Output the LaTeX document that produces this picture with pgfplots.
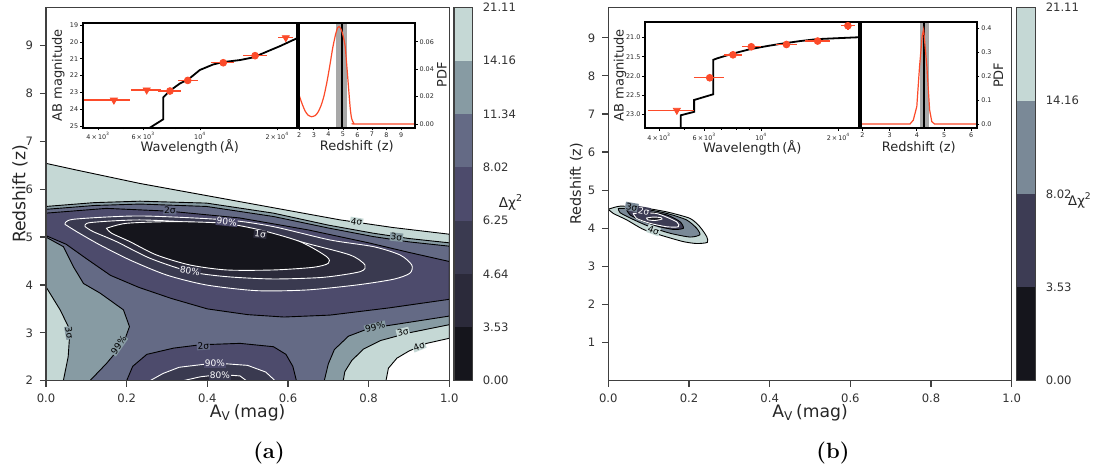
\documentclass[border=0pt]{standalone}
\usepackage{fontspec}
\usepackage{pgfplots}
\pgfplotsset{compat=1.18}
\newfontfamily\dv{DejaVu Sans}
\newcommand\fs[1]{\fontsize{#1}{#1}\selectfont}
\definecolor{c0}{HTML}{15151C}
\definecolor{c1}{HTML}{2B2A3A}
\definecolor{c2}{HTML}{3A3A50}
\definecolor{c3}{HTML}{4D4B6C}
\definecolor{c4}{HTML}{646A85}
\definecolor{c5}{HTML}{879BA3}
\definecolor{c6}{HTML}{C5D8D5}
\definecolor{r1}{HTML}{3D3C54}
\definecolor{r2}{HTML}{7A8997}
\definecolor{sred}{HTML}{FC4B2A}
\definecolor{band}{HTML}{A8A8A8}
\tikzset{clab/.style={font=\dv\fs{4.5}, inner sep=0.4pt}}
\pgfplotsset{
 mainax/.style={scale only axis, height=186.7pt, xmin=0, xmax=1, axis on top, clip=true,
   tick align=outside, major tick length=3pt, xtick pos=left, ytick pos=left,
   axis line style={black!75, line width=0.7pt}, tick style={black!75, line width=0.6pt},
   /pgf/number format/assume math mode=true,
   ticklabel style={font=\dv\fs{5.8}, text=black!80},
   label style={font=\dv\fs{8.6}, text=black!85},
   xtick={0,0.2,0.4,0.6,0.8,1}, xticklabels={0.0,0.2,0.4,0.6,0.8,1.0},
   xlabel={A\textsubscript{V}\,(mag)}, ylabel={Redshift (z)},
   xlabel style={at={(axis description cs:0.5,-0.0865)}, anchor=center}},
 inset/.style={scale only axis, axis on top, clip=true,
   tick align=outside, major tick length=1.3pt, minor tick length=0.8pt, xtick pos=left, ytick pos=left,
   axis line style={black, line width=0.9pt}, tick style={black, line width=0.35pt},
   /pgf/number format/assume math mode=true, scaled y ticks=false, scaled x ticks=false,
   ticklabel style={font=\dv\fs{3.2}, text=black!85, inner sep=0.8pt},
   label style={font=\dv\fs{6.5}, text=black!85},
   axis background/.style={fill=white}},
 cbar/.style={scale only axis, height=186.7pt, xmin=0, xmax=1, ymin=0, axis on top,
   xtick=\empty, yticklabel pos=right, ytick pos=right, tick align=outside, major tick length=1.5pt,
   axis line style={black!75, line width=0.7pt}, tick style={draw=none},
   /pgf/number format/assume math mode=true,
   ticklabel style={font=\dv\fs{5.8}, text=black!80}},
}
\begin{document}
\begin{tikzpicture}
\path[use as bounding box] (0,0) rectangle (546.5pt,-237pt);
\coordinate (MA) at (23pt,-190.35pt);
\coordinate (CBA) at (227pt,-190.35pt);
\coordinate (SA) at (41.35pt,-63.85pt);
\coordinate (PA) at (149.35pt,-63.85pt);
\coordinate (MB) at (304.15pt,-190.35pt);
\coordinate (CBB) at (508.35pt,-190.35pt);
\coordinate (SB) at (322.5pt,-64.15pt);
\coordinate (PB) at (430.5pt,-64.15pt);

% ---------------- panel (a) main ----------------
\begin{axis}[mainax, at={(MA)}, anchor=south west, width=201.65pt, ymin=2, ymax=9.8, ytick={2,...,9},
  ylabel style={at={(axis description cs:-0.0645,0.5)}, anchor=center, font=\dv\fs{8.6}}]
\addplot[fill=c6, draw=black, line width=0.45pt] coordinates {(0,2) (0,6.54) (0.076,6.40) (0.233,6.12) (0.481,5.74) (0.729,5.36) (0.86,5.2) (1,5.06) (1,2.886) (0.944,2.78) (0.90,2.62) (0.87,2.47) (0.849,2.26) (0.843,2)} --cycle;
\addplot[fill=c5, draw=black, line width=0.45pt] coordinates {(0,5.64) (0.12,5.72) (0.233,5.75) (0.398,5.71) (0.564,5.50) (0.70,5.25) (0.812,5.08) (0.9,4.97) (1,4.88) (1,3.17) (0.9,3.0) (0.83,2.84) (0.787,2.66) (0.758,2.42) (0.741,2.19) (0.737,2) (0.043,2) (0.055,2.5) (0.0595,3.06) (0.035,3.48) (0,3.96)} --cycle;
\addplot[fill=c4, draw=black, line width=0.45pt] coordinates {(0,5.58) (0.12,5.66) (0.233,5.69) (0.398,5.64) (0.564,5.43) (0.70,5.19) (0.812,5.01) (0.9,4.9) (1,4.81) (1,3.35) (0.87,3.18) (0.80,3.09) (0.75,2.93) (0.715,2.65) (0.70,2.35) (0.69,2) (0.109,2) (0.150,2.36) (0.192,2.78) (0.207,3.13) (0.192,3.48) (0.134,3.83) (0.093,4.03) (0.068,4.38) (0.043,4.80) (0,5.0)} --cycle;
\addplot[fill=c3, draw=black, line width=0.45pt] coordinates {(0,5.50) (0.15,5.60) (0.307,5.54) (0.48,5.40) (0.65,5.15) (0.8,4.88) (0.9,4.68) (1,4.49) (1,3.70) (0.85,3.52) (0.704,3.37) (0.59,3.33) (0.5,3.38) (0.40,3.50) (0.31,3.72) (0.23,3.95) (0.16,4.2) (0.10,4.55) (0.05,4.85) (0,5.03)} --cycle;
\addplot[fill=c3, draw=black, line width=0.45pt] coordinates {(0.2,2) (0.215,2.3) (0.25,2.55) (0.316,2.68) (0.382,2.75) (0.481,2.78) (0.564,2.71) (0.595,2.55) (0.612,2.3) (0.621,2)} --cycle;
\addplot[fill=c2, draw=white!85, line width=0.45pt, smooth, tension=0.45] coordinates {(0.047,5.267) (0.068,5.372) (0.233,5.441) (0.448,5.358) (0.564,5.218) (0.704,4.940) (0.812,4.800) (0.878,4.626) (0.907,4.417) (0.902,4.243) (0.861,4.118) (0.770,3.999) (0.646,3.895) (0.522,3.881) (0.398,3.999) (0.299,4.208) (0.208,4.522) (0.134,4.835) (0.076,5.114) (0.047,5.267)} --cycle;
\addplot[fill=c2, draw=white!85, line width=0.45pt] coordinates {(0.258,2) (0.29,2.15) (0.33,2.28) (0.419,2.37) (0.50,2.32) (0.545,2.18) (0.568,2)} --cycle;
\addplot[fill=c1, draw=white!85, line width=0.45pt, smooth, tension=0.45] coordinates {(0.097,5.218) (0.109,5.302) (0.233,5.358) (0.398,5.288) (0.522,5.149) (0.646,4.870) (0.754,4.626) (0.791,4.417) (0.779,4.278) (0.688,4.160) (0.564,4.125) (0.448,4.173) (0.357,4.278) (0.258,4.557) (0.175,4.905) (0.117,5.114) (0.097,5.218)} --cycle;
\addplot[fill=c1, draw=white!85, line width=0.45pt] coordinates {(0.34,2) (0.382,2.08) (0.431,2.13) (0.481,2.10) (0.497,2)} --cycle;
\addplot[fill=c0, draw=white, line width=0.45pt, smooth, tension=0.45] coordinates {(0.150,5.184) (0.200,5.288) (0.316,5.323) (0.440,5.288) (0.531,5.149) (0.630,4.905) (0.696,4.591) (0.700,4.452) (0.663,4.369) (0.564,4.313) (0.448,4.313) (0.357,4.417) (0.274,4.626) (0.208,4.905) (0.163,5.079) (0.150,5.184)} --cycle;
\node[clab, rotate=-9, fill=c6] at (axis cs:0.770,5.32) {4σ};
\node[clab, rotate=-6, fill=c5] at (axis cs:0.869,5.00) {3σ};
\node[clab, rotate=-1, fill=c4] at (axis cs:0.307,5.56) {2σ};
\node[clab, rotate=-6, fill=c3, text=white!80] at (axis cs:0.448,5.32) {90\%};
\node[clab, rotate=-6, fill=c1, text=white] at (axis cs:0.531,5.06) {1σ};
\node[clab, rotate=-9, fill=c2, text=white!80] at (axis cs:0.357,4.29) {80\%};
\node[clab, rotate=-80, fill=c5] at (axis cs:0.058,3.0) {3σ};
\node[clab, rotate=55, fill=c5] at (axis cs:0.180,2.74) {99\%};
\node[clab, rotate=4, fill=c4] at (axis cs:0.39,2.73) {2σ};
\node[clab, fill=c3, text=white!80] at (axis cs:0.419,2.36) {90\%};
\node[clab, fill=c2, text=white!80] at (axis cs:0.431,2.11) {80\%};
\node[clab, rotate=14, fill=c5] at (axis cs:0.816,3.12) {99\%};
\node[clab, rotate=14, fill=c6] at (axis cs:0.885,3.01) {3σ};
\node[clab, rotate=22, fill=c6] at (axis cs:0.925,2.72) {4σ};
\end{axis}

% colorbar (a)
\begin{axis}[cbar, at={(CBA)}, anchor=south west, width=9.35pt, ymax=7, ytick={0,...,7},
  yticklabels={0.00,3.53,4.64,6.25,8.02,11.34,14.16,21.11}]
\addplot[fill=c0, draw=none] coordinates {(0,0) (1,0) (1,1) (0,1)} --cycle;
\addplot[fill=c1, draw=none] coordinates {(0,1) (1,1) (1,2) (0,2)} --cycle;
\addplot[fill=c2, draw=none] coordinates {(0,2) (1,2) (1,3) (0,3)} --cycle;
\addplot[fill=c3, draw=none] coordinates {(0,3) (1,3) (1,4) (0,4)} --cycle;
\addplot[fill=c4, draw=none] coordinates {(0,4) (1,4) (1,5) (0,5)} --cycle;
\addplot[fill=c5, draw=none] coordinates {(0,5) (1,5) (1,6) (0,6)} --cycle;
\addplot[fill=c6, draw=none] coordinates {(0,6) (1,6) (1,7) (0,7)} --cycle;
\end{axis}
\node[font=\dv\fs{6.8}, text=black!85] at (255.5pt,-101pt) {Δχ\textsuperscript{2}};

% SED inset (a)
\begin{axis}[inset, at={(SA)}, anchor=south west, width=107pt, height=52.5pt,
  xmode=log, xmin=3480, xmax=23800, ymin=18.86, ymax=25.1, y dir=reverse, ytick={19,...,25},
  xtick={4000,6000,10000,20000},
  xticklabels={4\,×\,10\textsuperscript{3},6\,×\,10\textsuperscript{3},10\textsuperscript{4},2\,×\,10\textsuperscript{4}},
  minor xtick={5000,7000,8000,9000},
  xlabel={Wavelength\,(Å)}, ylabel={AB magnitude},
  xlabel style={at={(axis description cs:0.5,-0.181)}, anchor=center},
  ylabel style={at={(axis description cs:-0.114,0.5)}, anchor=center}]
\addplot[black, line width=0.9pt] coordinates {(5900,25.5) (6366,25.1) (7177,24.6) (7180,23.3) (7620,22.9) (8340,22.47) (8990,22.23) (9970,21.67) (11250,21.34) (12300,21.2) (14310,21.08) (16130,20.92) (18200,20.58) (20500,20.25) (23830,19.79) (25000,19.65)};
\addplot[sred, line width=0.7pt] coordinates {(3530,23.46) (5326,23.46)};
\addplot[sred, line width=0.7pt] coordinates {(5362,22.86) (7060,22.86)};
\addplot[sred, line width=0.7pt] coordinates {(6860,22.92) (8450,22.92)};
\addplot[sred, line width=0.7pt] coordinates {(8215,22.29) (9830,22.29)};
\addplot[sred, line width=0.7pt] coordinates {(11050,21.24) (13600,21.24)};
\addplot[sred, line width=0.7pt] coordinates {(14720,20.82) (18150,20.82)};
\addplot[sred, line width=0.7pt] coordinates {(20170,19.75) (23050,19.75)};
\addplot[only marks, mark=triangle*, mark size=2pt, color=sred, mark options={rotate=180, fill=sred, draw=sred}] coordinates {(4605,23.46) (6184,22.86) (21580,19.75)};
\addplot[only marks, mark=*, mark size=1.7pt, color=sred, mark options={fill=sred, draw=sred}] coordinates {(7620,22.92) (8942,22.29) (12300,21.24) (16370,20.82)};
\end{axis}

% PDF inset (a)
\begin{axis}[inset, at={(PA)}, anchor=south west, width=58.15pt, height=52.5pt,
  xmin=1.96, xmax=9.96, ymin=-0.0027, ymax=0.0739, xtick={2,...,9},
  ytick={0,0.02,0.04,0.06}, yticklabels={0.00,0.02,0.04,0.06}, yticklabel pos=right, ytick pos=right,
  xlabel={Redshift (z)}, ylabel={PDF},
  xlabel style={at={(axis description cs:0.5,-0.181)}, anchor=center},
  ylabel style={at={(axis description cs:1.23,0.5)}, anchor=center}]
\addplot[fill=band, draw=none] coordinates {(4.53,-1) (5.26,-1) (5.26,1) (4.53,1)} --cycle;
\addplot[black, line width=1.1pt] coordinates {(4.92,-1) (4.92,1)};
\addplot[sred, line width=0.6pt, smooth, tension=0.4] coordinates {(1.96,0.022) (2.2,0.0145) (2.4,0.0095) (2.6,0.0065) (2.85,0.0053) (3.1,0.0062) (3.3,0.0088) (3.5,0.0135) (3.7,0.0205) (3.9,0.0305) (4.1,0.0425) (4.3,0.0555) (4.5,0.0655) (4.65,0.0705) (4.75,0.071) (4.88,0.069) (5.0,0.065) (5.15,0.057) (5.25,0.045) (5.37,0.029) (5.5,0.012) (5.6,0.004) (5.75,0.0005) (5.9,0) (9.96,0)};
\end{axis}

% ---------------- panel (b) main ----------------
\begin{axis}[mainax, at={(MB)}, anchor=south west, width=201.7pt, ymin=0, ymax=9.8, ytick={1,...,9},
  ylabel style={at={(axis description cs:-0.079,0.527)}, anchor=center, font=\dv\fs{7.2}}]
\addplot[fill=c6, draw=black, line width=0.45pt, smooth, tension=0.4] coordinates {(0.0,4.50) (0.029,4.58) (0.079,4.55) (0.145,4.43) (0.2025,4.26) (0.227,4.04) (0.244,3.78) (0.2455,3.63) (0.219,3.60) (0.186,3.65) (0.136,3.80) (0.087,3.97) (0.0456,4.22) (0.0124,4.39) (0.0,4.50)} --cycle;
\addplot[fill=r2, draw=black, line width=0.45pt, smooth, tension=0.4] coordinates {(0.025,4.52) (0.079,4.52) (0.145,4.39) (0.194,4.22) (0.219,4.0) (0.227,3.83) (0.2025,3.77) (0.153,3.87) (0.103,4.04) (0.062,4.23) (0.029,4.41) (0.025,4.52)} --cycle;
\addplot[fill=r1, draw=black, line width=0.45pt, smooth, tension=0.4] coordinates {(0.0456,4.48) (0.087,4.46) (0.145,4.35) (0.178,4.17) (0.186,4.0) (0.161,3.97) (0.12,4.06) (0.079,4.22) (0.054,4.35) (0.0456,4.48)} --cycle;
\addplot[draw=white!85, line width=0.45pt, smooth, tension=0.4] coordinates {(0.062,4.39) (0.1188,4.39) (0.1696,4.17) (0.1735,4.04) (0.1448,4.04) (0.1034,4.13) (0.070,4.26) (0.062,4.39)} --cycle;
\addplot[fill=c0, draw=white, line width=0.45pt, smooth, tension=0.4] coordinates {(0.095,4.27) (0.112,4.295) (0.13,4.28) (0.133,4.24) (0.115,4.205) (0.097,4.225) (0.095,4.27)} --cycle;
\node[clab, rotate=-10, fill=r2] at (axis cs:0.058,4.56) {3σ};
\node[clab, rotate=-10, fill=r1, text=white!85] at (axis cs:0.088,4.45) {2σ};
\node[clab, rotate=-20, fill=c6] at (axis cs:0.112,3.95) {4σ};
\end{axis}

% colorbar (b)
\begin{axis}[cbar, at={(CBB)}, anchor=south west, width=9.5pt, ymax=4, ytick={0,...,4},
  yticklabels={0.00,3.53,8.02,14.16,21.11}]
\addplot[fill=c0, draw=none] coordinates {(0,0) (1,0) (1,1) (0,1)} --cycle;
\addplot[fill=r1, draw=none] coordinates {(0,1) (1,1) (1,2) (0,2)} --cycle;
\addplot[fill=r2, draw=none] coordinates {(0,2) (1,2) (1,3) (0,3)} --cycle;
\addplot[fill=c6, draw=none] coordinates {(0,3) (1,3) (1,4) (0,4)} --cycle;
\end{axis}
\node[font=\dv\fs{6.6}, text=black!85] at (540pt,-100pt) {Δχ\textsuperscript{2}};

% SED inset (b)
\begin{axis}[inset, at={(SB)}, anchor=south west, width=107.15pt, height=53pt,
  xmode=log, xmin=3520, xmax=24100, ymin=20.6, ymax=23.37, y dir=reverse,
  ytick={21,21.5,22,22.5,23}, yticklabels={21.0,21.5,22.0,22.5,23.0},
  xtick={4000,6000,10000,20000},
  xticklabels={4\,×\,10\textsuperscript{3},6\,×\,10\textsuperscript{3},10\textsuperscript{4},2\,×\,10\textsuperscript{4}},
  minor xtick={5000,7000,8000,9000},
  xlabel={Wavelength\,(Å)}, ylabel={AB magnitude},
  xlabel style={at={(axis description cs:0.5,-0.181)}, anchor=center},
  ylabel style={at={(axis description cs:-0.117,0.5)}, anchor=center}]
\addplot[black, line width=0.9pt] coordinates {(4851,23.6) (4851,23.03) (5470,22.94) (5470,22.63) (6500,22.48) (6500,21.58) (6742,21.54) (7820,21.41) (9080,21.30) (10550,21.22) (12230,21.15) (14190,21.09) (16490,21.04) (19140,21.02) (24140,20.99)};
\addplot[sred, line width=0.7pt] coordinates {(3600,22.9) (5440,22.9)};
\addplot[sred, line width=0.7pt] coordinates {(5460,22.05) (7160,22.05)};
\addplot[sred, line width=0.7pt] coordinates {(7154,21.45) (8431,21.45)};
\addplot[sred, line width=0.7pt] coordinates {(8431,21.24) (9934,21.24)};
\addplot[sred, line width=0.7pt] coordinates {(11360,21.18) (13790,21.18)};
\addplot[sred, line width=0.7pt] coordinates {(14850,21.09) (18570,21.09)};
\addplot[sred, line width=0.7pt] coordinates {(20440,20.69) (23230,20.69)};
\addplot[sred, line width=0.7pt] coordinates {(21750,20.57) (21750,20.81)};
\addplot[only marks, mark=triangle*, mark size=2pt, color=sred, mark options={rotate=180, fill=sred, draw=sred}] coordinates {(4684,22.9)};
\addplot[only marks, mark=*, mark size=1.7pt, color=sred, mark options={fill=sred, draw=sred}] coordinates {(6293,22.05) (7755,21.45) (9137,21.24) (12530,21.18) (16580,21.09) (21750,20.69)};
\end{axis}

% PDF inset (b)
\begin{axis}[inset, at={(PB)}, anchor=south west, width=57.85pt, height=53pt,
  xmin=1.95, xmax=6.2, ymin=-0.018, ymax=0.425, xtick={2,...,6},
  ytick={0,0.1,0.2,0.3,0.4}, yticklabels={0.0,0.1,0.2,0.3,0.4}, yticklabel pos=right, ytick pos=right,
  xlabel={Redshift (z)}, ylabel={PDF},
  xlabel style={at={(axis description cs:0.5,-0.181)}, anchor=center},
  ylabel style={at={(axis description cs:1.187,0.5)}, anchor=center}]
\addplot[fill=band, draw=none] coordinates {(4.1,-1) (4.43,-1) (4.43,1) (4.1,1)} --cycle;
\addplot[black, line width=1.1pt] coordinates {(4.27,-1) (4.27,1)};
\addplot[sred, line width=0.6pt] coordinates {(1.95,0) (3.75,0) (3.87,0.016) (4.0,0.073) (4.1,0.24) (4.2,0.37) (4.25,0.395) (4.3,0.33) (4.37,0.24) (4.47,0.059) (4.55,0.01) (4.65,0) (6.2,0)};
\end{axis}

\node[font=\bfseries\fs{11}] at (134.5pt,-226.5pt) {(a)};
\node[font=\bfseries\fs{11}] at (416.5pt,-226.5pt) {(b)};
\end{tikzpicture}
\end{document}
